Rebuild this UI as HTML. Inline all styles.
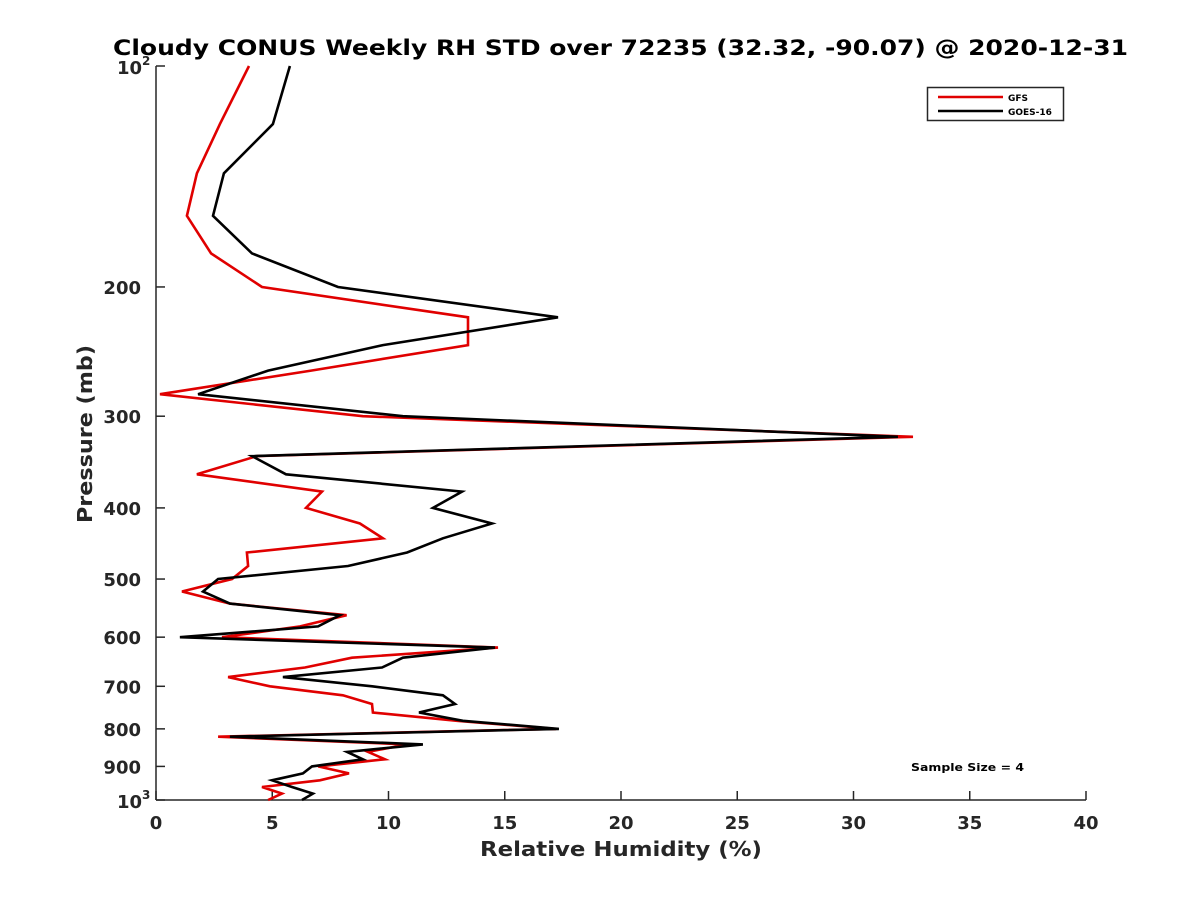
<!DOCTYPE html>
<html><head><meta charset="utf-8"><style>
body{margin:0;background:#fff}
svg{display:block;font-family:"DejaVu Sans","Liberation Sans",sans-serif;font-weight:bold}
</style></head><body>
<svg id="chart" width="1200" height="900" viewBox="0 0 1200 900">
<rect width="1200" height="900" fill="#fff"/>
<text x="113" y="55" font-size="21" textLength="1015" lengthAdjust="spacingAndGlyphs" fill="#000">Cloudy CONUS Weekly RH STD over 72235 (32.32, -90.07) @ 2020-12-31</text>
<g id="axes"></g>
<g id="series"></g>
<g>
<rect x="927.5" y="87.5" width="136" height="33" fill="#fff" stroke="#262626" stroke-width="1.5"/>
<line x1="938" y1="97" x2="1003" y2="97" stroke="#e00000" stroke-width="2.5"/>
<text x="1008" y="101" font-size="9">GFS</text>
<line x1="938" y1="111" x2="1003" y2="111" stroke="#000" stroke-width="2.5"/>
<text x="1008" y="115" font-size="9">GOES-16</text>
</g>
<text x="911" y="771" font-size="11" textLength="113" lengthAdjust="spacingAndGlyphs">Sample Size = 4</text>
<text x="480" y="856" font-size="20" textLength="282" lengthAdjust="spacingAndGlyphs" fill="#262626">Relative Humidity (%)</text>
<text transform="translate(92,523) rotate(-90)" font-size="20" textLength="178" lengthAdjust="spacingAndGlyphs" fill="#262626">Pressure (mb)</text>
</svg>
<script>
const pressures=[100,120,140,160,180,200,220,240,260,280,300,320,340,360,380,400,420,440,460,480,500,520,540,560,580,600,620,640,660,680,700,720,740,760,780,800,820,840,860,880,900,920,940,960,980,1000];
const gfsValues=[4.0,2.75,1.76,1.33,2.37,4.56,13.42,13.42,6.67,0.17,8.9,32.56,4.34,1.76,7.14,6.45,8.77,9.76,3.91,3.96,3.27,1.12,3.18,8.2,6.2,2.84,14.71,8.43,6.41,3.1,4.9,8.04,9.29,9.33,12.95,17.2,2.67,10.8,9.12,9.85,6.97,8.3,7.05,4.56,5.42,4.82];
const goesValues=[5.76,5.03,2.92,2.45,4.13,7.83,17.29,9.76,4.82,1.81,10.62,31.91,4.13,5.59,13.16,11.91,14.45,12.34,10.8,8.26,2.67,2.02,3.18,7.91,6.97,1.03,14.58,10.62,9.72,5.46,9.3,12.34,12.86,11.31,13.2,17.33,3.18,11.48,8.22,8.9,6.71,6.32,4.99,5.85,6.75,6.28];
const xTicks=[0,5,10,15,20,25,30,35,40];
const yTicks=[200,300,400,500,600,700,800,900];
const NS='http://www.w3.org/2000/svg';
const X0=156,X1=1086,Y0=66,Y1=800;
function xs(v){return X0+(v-0)/40*(X1-X0);}
function ys(p){return Y0+(Math.log10(p)-2)*(Y1-Y0);}
function mk(t,a,parent){const e=document.createElementNS(NS,t);for(const k in a)e.setAttribute(k,a[k]);parent.appendChild(e);return e;}
const axes=document.getElementById('axes'),series=document.getElementById('series');
let e=mk('line',{x1:X0,y1:Y0,x2:X0,y2:Y1,stroke:'#262626','stroke-width':1.5},axes);


e=mk('line',{x1:X0,y1:Y1,x2:X1,y2:Y1,stroke:'#262626','stroke-width':1.5},axes);


xTicks.forEach(v=>{
 const t=mk('line',{x1:xs(v),y1:Y1,x2:xs(v),y2:Y1-9,stroke:'#262626','stroke-width':1.5},axes);
 
 
 const l=mk('text',{x:xs(v),y:Y1+29,'font-size':18,'text-anchor':'middle',fill:'#262626'},axes);
 l.textContent=v;
 
 
});
[100].concat(yTicks).concat([1000]).forEach(p=>{
 const t=mk('line',{x1:X0,y1:ys(p),x2:X0+9,y2:ys(p),stroke:'#262626','stroke-width':1.5},axes);
 
 
});
yTicks.forEach(p=>{
 const l=mk('text',{x:X0-15,y:ys(p)+7,'font-size':18,'text-anchor':'end',fill:'#262626'},axes);
 l.textContent=p;
 
 
});
[[100,'2'],[1000,'3']].forEach(([p,s])=>{
 const l=mk('text',{x:X0-14,y:ys(p)+8,'font-size':18,'text-anchor':'end',fill:'#262626'},axes);
 l.textContent='10';
 
 
 const s2=mk('text',{x:X0-14,y:ys(p)-1,'font-size':12,'text-anchor':'start',fill:'#262626'},axes);
 s2.textContent=s;
 
 
});
function drawLine(vals,color,name){
 const pts=vals.map((v,i)=>xs(v).toFixed(1)+','+ys(pressures[i]).toFixed(1)).join(' ');
 const pl=mk('polyline',{points:pts,fill:'none',stroke:color,'stroke-width':2.6,'stroke-linejoin':'miter'},series);
 
 
}
drawLine(gfsValues,'#e00000','gfs-line');
drawLine(goesValues,'#000000','goes16-line');
</script>
</body></html>
